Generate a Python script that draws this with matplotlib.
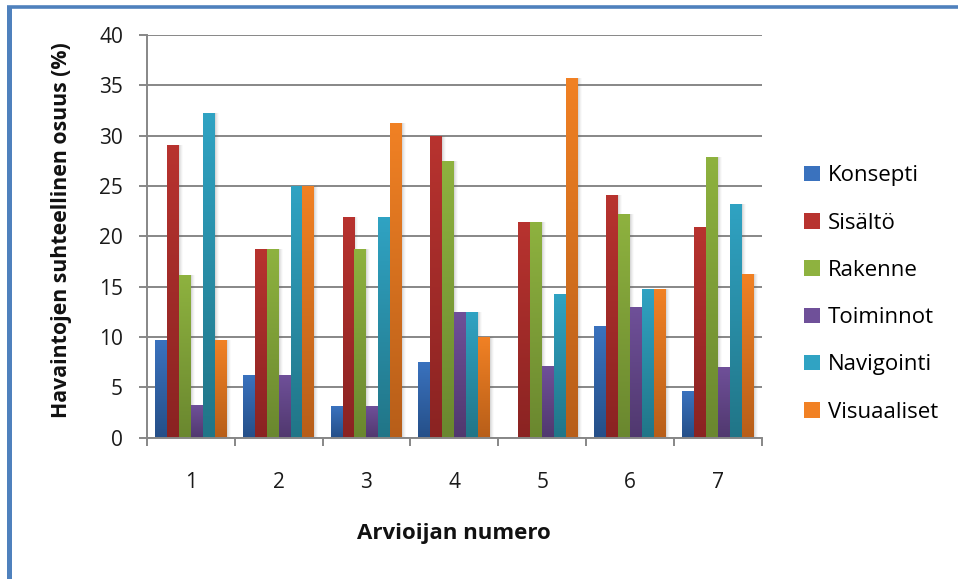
import numpy as np
import matplotlib
matplotlib.use("Agg")
import matplotlib.pyplot as plt
from matplotlib.colors import LinearSegmentedColormap
from matplotlib.patches import Patch
from matplotlib.lines import Line2D

# Share of findings per evaluator (%)
evaluators = ["1", "2", "3", "4", "5", "6", "7"]
series_names = ["Konsepti", "Sisältö", "Rakenne", "Toiminnot", "Navigointi", "Visuaaliset"]
konsepti = [9.68, 6.25, 3.13, 7.50, 0.00, 11.11, 4.65]
sisalto = [29.03, 18.75, 21.88, 30.00, 21.43, 24.07, 20.93]
rakenne = [16.13, 18.75, 18.75, 27.50, 21.43, 22.22, 27.91]
toiminnot = [3.23, 6.25, 3.13, 12.50, 7.14, 12.96, 6.98]
navigointi = [32.26, 25.00, 21.88, 12.50, 14.29, 14.81, 23.26]
visuaaliset = [9.68, 25.00, 31.25, 10.00, 35.71, 14.81, 16.28]
yticks = [0, 5, 10, 15, 20, 25, 30, 35, 40]

series = [konsepti, sisalto, rakenne, toiminnot, navigointi, visuaaliset]
# (top colour, bottom colour) of each series' vertical gradient
shades = [("#3A72BE", "#254F88"),
          ("#B8332F", "#8A2322"),
          ("#8EB23F", "#6A872F"),
          ("#6F5099", "#50386E"),
          ("#30A3C3", "#217587"),
          ("#F18124", "#B75E19")]

FONT = ["Open Sans", "DejaVu Sans"]
plt.rcParams["font.family"] = FONT

W, H = 958, 579
fig = plt.figure(figsize=(W / 100, H / 100), dpi=100)
fig.patch.set_facecolor("white")

left, right, bottom, top = 146.7, 762.0, 437.7, 35.0
ax = fig.add_axes([left / W, 1 - bottom / H, (right - left) / W, (bottom - top) / H])

n_series = len(series)
bw = 0.136
x = np.arange(len(evaluators))
px = 7.0 / (right - left)  # one pixel in data units along x

grad = np.linspace(0, 1, 256).reshape(-1, 1)

for j, (vals, (ctop, cbot)) in enumerate(zip(series, shades)):
    xpos = x + (j - (n_series - 1) / 2) * bw
    # soft drop shadow
    for k, a in zip([1, 2, 3, 4], [0.10, 0.07, 0.05, 0.03]):
        ax.bar(xpos + k * px, np.array(vals), width=bw, bottom=0,
               color="#606060", alpha=a, linewidth=0, zorder=2)
    bars = ax.bar(xpos, vals, width=bw, color=cbot, linewidth=0, zorder=3)
    cmap = LinearSegmentedColormap.from_list(series_names[j], [cbot, ctop])
    for b in bars:
        h = b.get_height()
        if h <= 0:
            continue
        x0 = b.get_x()
        im = ax.imshow(grad, extent=[x0, x0 + b.get_width(), 0, h], origin="lower",
                       aspect="auto", cmap=cmap, zorder=4, interpolation="bilinear")
        im.set_clip_path(b)

ax.set_xlim(-0.5, len(evaluators) - 0.5)
ax.set_ylim(0, 40)
ax.set_aspect("auto")

grid_c = "#878787"
ax.set_yticks(yticks)
ax.set_yticklabels([str(t) for t in yticks], fontsize=15, color="#1a1a1a")
ax.yaxis.grid(True, color=grid_c, linewidth=1.4, zorder=1)
ax.set_axisbelow(True)
ax.tick_params(axis="y", direction="out", length=6, width=1.4, color=grid_c, pad=11)

ax.set_xticks(x)
ax.set_xticklabels(evaluators, fontsize=15, color="#1a1a1a")
ax.set_xticks(np.arange(-0.5, len(evaluators), 1.0), minor=True)
ax.tick_params(axis="x", which="major", length=0, pad=25)
ax.tick_params(axis="x", which="minor", direction="out", length=6, width=1.4, color=grid_c)

for s in ["top", "right"]:
    ax.spines[s].set_visible(False)
for s in ["left", "bottom"]:
    ax.spines[s].set_color(grid_c)
    ax.spines[s].set_linewidth(1.4)
    ax.spines[s].set_zorder(5)

fig.text(61 / W, 1 - 230 / H, "Havaintojen suhteellinen osuus (%)", rotation=90,
         ha="center", va="center", fontsize=15.3, fontweight="bold", color="#111111")
fig.text(454 / W, 1 - 534 / H, "Arvioijan numero", ha="center", va="center",
         fontsize=16, fontweight="bold", color="#111111")

handles = [Patch(facecolor=ctop, edgecolor="none") for ctop, _ in shades]
fig.legend(handles, series_names, loc="center left",
           bbox_to_anchor=(800 / W, 1 - 294 / H), frameon=False,
           fontsize=16, handlelength=0.7, handleheight=0.7, handletextpad=0.35,
           labelspacing=1.18, borderpad=0.2, borderaxespad=0)

# blue frame along the top and left edges
fig.add_artist(Line2D([9 / W, 9 / W], [0, 1 - 6.5 / H], transform=fig.transFigure,
                      color="#4F81BD", linewidth=3.6, solid_capstyle="butt"))
fig.add_artist(Line2D([6.5 / W, 1], [1 - 6.5 / H, 1 - 6.5 / H], transform=fig.transFigure,
                      color="#4F81BD", linewidth=2.6, solid_capstyle="butt"))

fig.savefig("out.png", dpi=100, facecolor="white")
